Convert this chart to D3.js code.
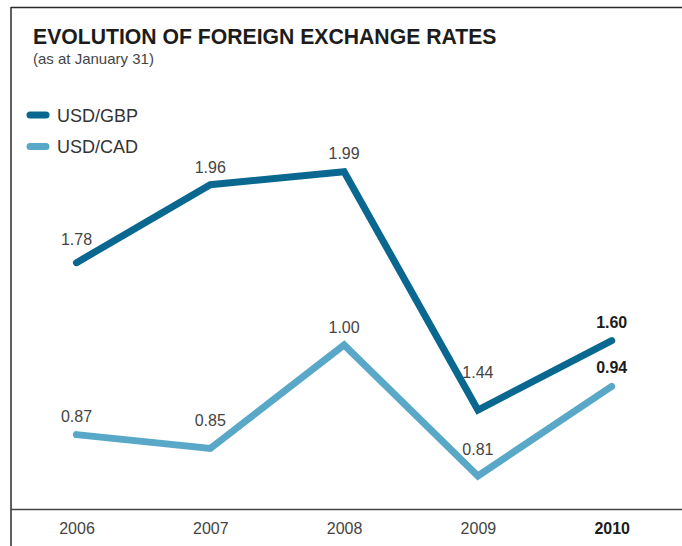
<!DOCTYPE html>
<html>
<head>
<meta charset="utf-8">
<script src="https://cdn.jsdelivr.net/npm/d3@7"></script>
<style>
  html, body { margin: 0; padding: 0; background: #fff; }
  svg { display: block; font-family: "Liberation Sans", Arial, Helvetica, sans-serif; }
</style>
</head>
<body>
<svg id="chart" width="682" height="546"></svg>
<script>
// Exchange rates as at January 31 of each year
const years = ["2006", "2007", "2008", "2009", "2010"];
const usdGbp = [1.78, 1.96, 1.99, 1.44, 1.60];
const usdCad = [0.87, 0.85, 1.00, 0.81, 0.94];
const seriesNames = ["USD/GBP", "USD/CAD"];
const seriesColors = ["#0a6890", "#5aa8c8"];
const highlightYear = "2010";

// Vertical gap between each point and its value label (px)
const gbpLabelGap = [18, 12, 13, 32, 13];
const cadLabelGap = [13, 22, 12, 21, 13];

const svg = d3.select("#chart");
const W = 682, H = 546;

// Frame: top rule, left rule and base line
svg.append("line").attr("x1", 11).attr("x2", W).attr("y1", 7.5).attr("y2", 7.5)
  .attr("stroke", "#2a2a2a").attr("stroke-width", 1.5);
svg.append("line").attr("x1", 11).attr("x2", 11).attr("y1", 7).attr("y2", H)
  .attr("stroke", "#2a2a2a").attr("stroke-width", 1.5);

// Title block
svg.append("text").attr("x", 33).attr("y", 44.3)
  .attr("font-size", 21.2).attr("font-weight", "bold").attr("fill", "#1c1c1c")
  .text("EVOLUTION OF FOREIGN EXCHANGE RATES");
svg.append("text").attr("x", 33).attr("y", 63.5)
  .attr("font-size", 15).attr("fill", "#444")
  .text("(as at January 31)");

// Scales: shared x, one y scale per series
const x = d3.scalePoint().domain(years).range([76.5, 611.7]);
const yGbp = d3.scaleLinear().domain(d3.extent(usdGbp)).range([410, 171.7]);
const yCad = d3.scaleLinear().domain(d3.extent(usdCad)).range([476, 345]);

// Category axis
const xAxis = d3.axisBottom(x).tickSize(0).tickPadding(0);
const axisG = svg.append("g").attr("transform", "translate(0,509.5)").call(xAxis);
axisG.select(".domain").remove();
axisG.append("line").attr("x1", 11).attr("x2", W).attr("y1", 0).attr("y2", 0)
  .attr("stroke", "#444").attr("stroke-width", 1.3);
axisG.selectAll(".tick text")
  .attr("y", 24.5).attr("dy", 0)
  .attr("font-size", 16)
  .attr("font-family", "'Liberation Sans', Arial, sans-serif")
  .attr("fill", d => d === highlightYear ? "#1c1c1c" : "#444")
  .attr("font-weight", d => d === highlightYear ? "bold" : "normal");

// Series lines and value labels
const series = [
  { name: seriesNames[0], values: usdGbp, y: yGbp, color: seriesColors[0], gaps: gbpLabelGap },
  { name: seriesNames[1], values: usdCad, y: yCad, color: seriesColors[1], gaps: cadLabelGap }
];

series.forEach(s => {
  const pts = years.map((yr, i) => ({ year: yr, v: s.values[i], gap: s.gaps[i] }));
  const line = d3.line().x(d => x(d.year)).y(d => s.y(d.v));
  svg.append("path").datum(pts)
    .attr("d", line)
    .attr("fill", "none")
    .attr("stroke", s.color)
    .attr("stroke-width", 7)
    .attr("stroke-linecap", "round")
    .attr("stroke-linejoin", "miter");
  svg.append("g").selectAll("text").data(pts).join("text")
    .attr("x", d => x(d.year))
    .attr("y", d => s.y(d.v) - d.gap)
    .attr("text-anchor", "middle")
    .attr("font-size", 16)
    .attr("fill", d => d.year === highlightYear ? "#1c1c1c" : "#444")
    .attr("font-weight", d => d.year === highlightYear ? "bold" : "normal")
    .text(d => d3.format(".2f")(d.v));
});

// Legend
const legend = svg.append("g");
series.forEach((s, i) => {
  const cy = 115 + i * 31.5;
  legend.append("line").attr("x1", 30).attr("x2", 46).attr("y1", cy).attr("y2", cy)
    .attr("stroke", s.color).attr("stroke-width", 7).attr("stroke-linecap", "round");
  legend.append("text").attr("x", 57).attr("y", cy + 6.5)
    .attr("font-size", 18).attr("fill", "#333")
    .text(s.name);
});
</script>
</body>
</html>
